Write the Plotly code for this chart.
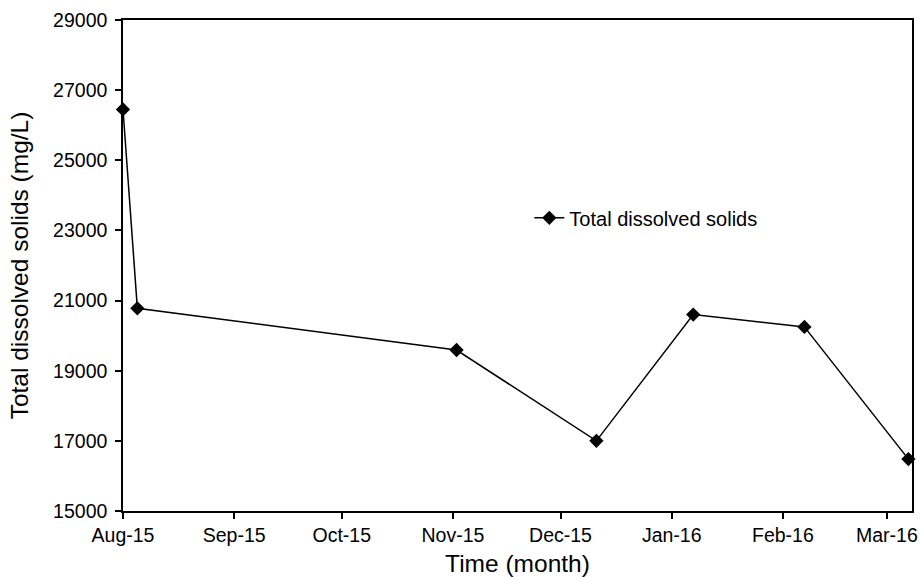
import plotly.graph_objects as go

dates = ["2015-08-01", "2015-08-05", "2015-11-02", "2015-12-11",
         "2016-01-07", "2016-02-07", "2016-03-07"]
tds = [26450, 20780, 19590, 17000, 20600, 20250, 16480]

tick_dates = ["2015-08-01", "2015-09-01", "2015-10-01", "2015-11-01",
              "2015-12-01", "2016-01-01", "2016-02-01", "2016-03-01"]
tick_labels = ["Aug-15", "Sep-15", "Oct-15", "Nov-15", "Dec-15",
               "Jan-16", "Feb-16", "Mar-16"]
y_ticks = [15000, 17000, 19000, 21000, 23000, 25000, 27000, 29000]

FONT = "Liberation Sans, Arial, sans-serif"

fig = go.Figure()
fig.add_trace(go.Scatter(
    x=dates, y=tds, mode="lines+markers", name="Total dissolved solids",
    line=dict(color="black", width=1.5),
    marker=dict(symbol="diamond", size=11, color="black"),
    cliponaxis=False,
))

fig.update_layout(
    width=921, height=577,
    margin=dict(l=123, r=9, t=20, b=66),
    paper_bgcolor="white", plot_bgcolor="white",
    font=dict(family=FONT, color="black", size=20),
    showlegend=True,
    legend=dict(x=0.515, y=0.597, xanchor="left", yanchor="middle",
                bgcolor="rgba(0,0,0,0)", font=dict(size=20, family=FONT),
                itemwidth=30),
    xaxis=dict(
        type="date", range=["2015-08-01", "2016-03-08"],
        tickvals=tick_dates, ticktext=tick_labels,
        automargin=False,
        showgrid=False, zeroline=False,
        showline=True, linecolor="black", linewidth=1.5, mirror=True,
        ticks="outside", ticklen=6, tickcolor="black", tickwidth=1.5,
        tickfont=dict(size=19.5, family=FONT),
        title=dict(text="Time (month)", font=dict(size=24.5, family=FONT), standoff=13),
    ),
    yaxis=dict(
        range=[15000, 29000], tickvals=y_ticks,
        tickformat="d",
        automargin=False,
        showgrid=False, zeroline=False,
        showline=True, linecolor="black", linewidth=1.5, mirror=True,
        ticks="outside", ticklen=6, tickcolor="black", tickwidth=1.5,
        tickfont=dict(size=19.5, family=FONT),
        ticklabelstandoff=4,
        title=dict(text="Total dissolved solids (mg/L)", font=dict(size=24.5, family=FONT), standoff=18),
    ),
)

fig.write_html("out.html", config={"displayModeBar": False},
               post_script="document.body.style.margin='0';")
